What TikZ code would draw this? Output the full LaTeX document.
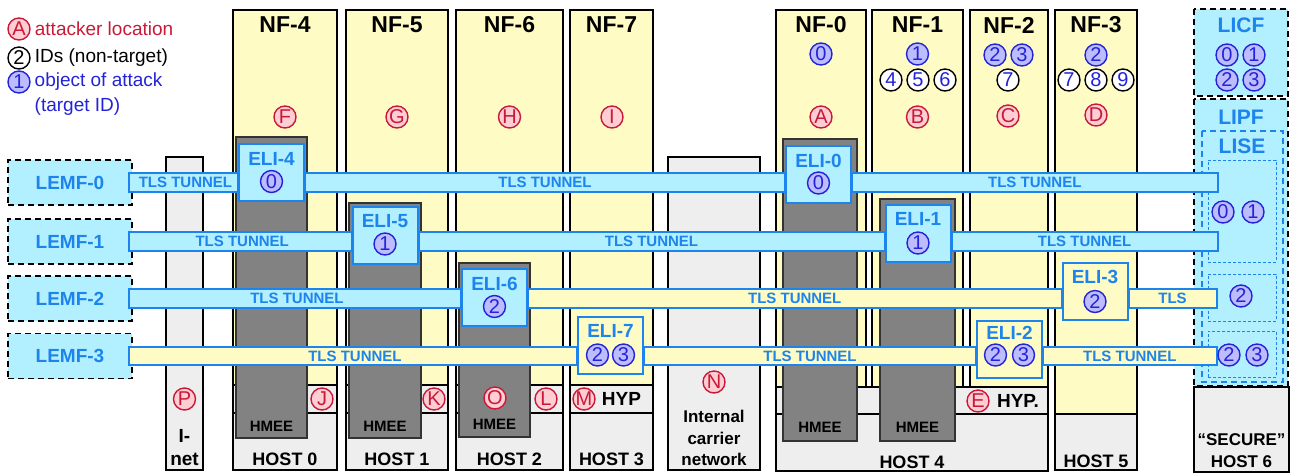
\documentclass[tikz,border=0pt]{standalone}
\usepackage{fontspec}
\setmainfont{Liberation Sans}
\usetikzlibrary{calc,positioning}
\definecolor{nfyellow}{RGB}{255,251,196}
\definecolor{licyan}{RGB}{178,239,255}
\definecolor{liblue}{RGB}{28,132,236}
\definecolor{tgtblue}{RGB}{35,35,215}
\definecolor{tgtfill}{RGB}{188,188,255}
\definecolor{atkred}{RGB}{200,25,55}
\definecolor{atkfill}{RGB}{255,205,212}
\definecolor{hmeegray}{RGB}{130,130,130}
\definecolor{hostgray}{RGB}{238,238,238}

\begin{document}
\begin{tikzpicture}[
    x=1pt, y=-1pt,
    every node/.style={inner sep=0pt},
    nfbox/.style={draw, line width=1.6pt, fill=nfyellow},
    hostbox/.style={draw, line width=1.6pt, fill=hostgray},
    hmee/.style={draw=black!80, line width=1.6pt, fill=hmeegray},
    lidash/.style={draw, dash pattern=on 6pt off 4pt, line width=1.8pt, fill=licyan},
    lisebox/.style={draw=liblue, dash pattern=on 6pt off 4pt, line width=1.8pt, fill=licyan},
    subbox/.style={draw=liblue, dash pattern=on 3pt off 2pt, line width=0.8pt, fill=licyan},
    lemf/.style={lidash, minimum width=124pt, minimum height=45pt, text=liblue, font=\fontsize{19}{19}\selectfont\bfseries},
    eli/.style={draw=liblue, line width=2pt, fill=licyan, minimum width=65pt, minimum height=57pt},
    eliyel/.style={eli, fill=nfyellow},
    elitext/.style={text=liblue, font=\fontsize{19}{19}\selectfont\bfseries},
    tunnelc/.style={draw=liblue, line width=2pt, fill=licyan},
    tunnely/.style={tunnelc, fill=nfyellow},
    tls/.style={text=liblue, font=\fontsize{15}{15}\selectfont\bfseries},
    litext/.style={text=liblue, font=\fontsize{21}{21}\selectfont\bfseries},
    nftext/.style={font=\fontsize{23}{23}\selectfont\bfseries},
    hosttext/.style={font=\fontsize{18}{22}\selectfont\bfseries, align=center},
    hmeetext/.style={font=\fontsize{15}{15}\selectfont\bfseries},
    legtext/.style={font=\fontsize{19}{25}\selectfont, align=left},
    tgt/.style={circle, draw=tgtblue, line width=1.4pt, fill=tgtfill, text=tgtblue, minimum size=22pt, font=\fontsize{20}{20}\selectfont},
    nid/.style={tgt, draw=black, fill=white},
    atk/.style={tgt, draw=atkred, fill=atkfill, text=atkred}
]
\useasboundingbox (0,0) rectangle (1296,475);

\node[atk] (legatk) at (19,29) {A};
\node[legtext, text=atkred, right=4pt of legatk] (legatktext) {attacker location};
\node[nid, text=black] (legnid) at (19,58) {2};
\node[legtext, right=4pt of legnid] (legnidtext) {IDs (non-target)};
\node[tgt] (legtgt) at (19,82) {1};
\node[legtext, text=tgtblue, anchor=north west] (legtgttext) at (34.5,73) {object of attack\\(target ID)};

\draw[hostbox] (166,157) rectangle (203,470);
\node[atk] (atkP) at (184.5,399) {P};
\node[hosttext, font=\fontsize{19}{23}\selectfont\bfseries] (inet) at (184.5,448) {I-\\net};
\draw[hostbox] (668,157) rectangle (760,470);
\node[atk] (atkN) at (714,382) {N};
\node[hosttext, font=\fontsize{17}{21.5}\selectfont\bfseries] (icn) at (714,438) {Internal\\carrier\\network};

\draw[nfbox] (233,10) rectangle (337,385);
\draw[hostbox] (233,385) rectangle (337,470);
\draw[line width=1.6pt] (233,413) -- (337,413);
\draw[hmee] (236,137) rectangle (307,438);
\node[nftext] (nf4) at (285,25) {NF-4};
\node[atk] (atkF) at (285,117) {F};
\node[atk] (atkJ) at (322,399) {J};
\node[hmeetext] (hmee0) at (271.5,426) {HMEE};
\node[hosttext] (host0) at (285,459) {HOST 0};

\draw[nfbox] (346,10) rectangle (448,385);
\draw[hostbox] (346,385) rectangle (448,470);
\draw[line width=1.6pt] (346,413) -- (448,413);
\draw[hmee] (349,203) rectangle (421,438);
\node[nftext] (nf5) at (397,25) {NF-5};
\node[atk] (atkG) at (397,117) {G};
\node[atk] (atkK) at (434,399) {K};
\node[hmeetext] (hmee1) at (385,426) {HMEE};
\node[hosttext] (host1) at (397,459) {HOST 1};

\draw[nfbox] (456,10) rectangle (563,385);
\draw[hostbox] (456,385) rectangle (563,470);
\draw[line width=1.6pt] (456,413) -- (563,413);
\draw[hmee] (459,263) rectangle (530,437);
\node[nftext] (nf6) at (509.5,25) {NF-6};
\node[atk] (atkH) at (509.5,117) {H};
\node[atk] (atkO) at (495,398) {O};
\node[atk] (atkL) at (546,399) {L};
\node[hmeetext] (hmee2) at (494.5,424) {HMEE};
\node[hosttext] (host2) at (509.5,459) {HOST 2};

\draw[nfbox] (570,10) rectangle (653,385);
\draw[hostbox] (570,385) rectangle (653,470);
\draw[line width=1.6pt] (570,413) -- (653,413);
\node[nftext] (nf7) at (611.5,25) {NF-7};
\node[atk] (atkI) at (612,117) {I};
\node[atk] (atkM) at (584,399) {M};
\node[hosttext, font=\fontsize{19}{19}\selectfont\bfseries] (hyp3) at (621.5,399) {HYP};
\node[hosttext] (host3) at (611.5,459) {HOST 3};

\draw[nfbox] (776,10) rectangle (866,387);
\draw[nfbox] (872,10) rectangle (963,387);
\draw[nfbox] (970,10) rectangle (1048,387);
\draw[hostbox] (776,387) rectangle (1048,471);
\draw[line width=1.6pt] (776,414) -- (1048,414);
\draw[hmee] (783,139) rectangle (857,441);
\draw[hmee] (880,199) rectangle (955,441);
\node[nftext] (nf0) at (821,25) {NF-0};
\node[tgt] (nf0id0) at (821,54) {0};
\node[atk] (atkA) at (821,117) {A};
\node[nftext] (nf1) at (917.5,25) {NF-1};
\node[tgt] (nf1id1) at (917.5,54) {1};
\node[nid] (nf1id4) at (891,80) {4};
\node[nid] (nf1id5) at (918,80) {5};
\node[nid] (nf1id6) at (945,80) {6};
\node[atk] (atkB) at (917.5,117) {B};
\node[nftext] (nf2) at (1009,25) {NF-2};
\node[tgt] (nf2id2) at (995,55) {2};
\node[tgt] (nf2id3) at (1022,55) {3};
\node[nid] (nf2id7) at (1008,80) {7};
\node[atk] (atkC) at (1008,116) {C};
\node[atk] (atkE) at (978,401) {E};
\node[hosttext, font=\fontsize{19}{19}\selectfont\bfseries] (hyp4) at (1018,401) {HYP.};
\node[hmeetext] (hmee4a) at (820,427) {HMEE};
\node[hmeetext] (hmee4b) at (917.5,427) {HMEE};
\node[hosttext] (host4) at (912,462) {HOST 4};

\draw[nfbox] (1055,10) rectangle (1137,414);
\draw[hostbox] (1055,414) rectangle (1137,470);
\node[nftext] (nf3) at (1096,25) {NF-3};
\node[tgt] (nf3id2) at (1096,55) {2};
\node[nid] (nf3id7) at (1069,80) {7};
\node[nid] (nf3id8) at (1096,80) {8};
\node[nid] (nf3id9) at (1123,80) {9};
\node[atk] (atkD) at (1096,115) {D};
\node[hosttext] (host5) at (1096,461) {HOST 5};

\draw[hostbox] (1194,387) rectangle (1289,472);
\node[hosttext, font=\fontsize{17}{22}\selectfont\bfseries] (host6) at (1241.5,451) {``SECURE''\\HOST 6};
\draw[lidash] (1194,9) rectangle (1288,96);
\node[litext] (licf) at (1241,25) {LICF};
\node[tgt] (licf0) at (1227,55) {0};
\node[tgt] (licf1) at (1254,55) {1};
\node[tgt] (licf2) at (1227,80) {2};
\node[tgt] (licf3) at (1254,80) {3};
\draw[lidash] (1194,99) rectangle (1288,386);
\node[litext] (lipf) at (1241,117) {LIPF};
\draw[lisebox] (1202,131) rectangle (1283,382);
\node[litext] (lise) at (1242,146) {LISE};
\node[subbox, minimum width=68pt, minimum height=102pt] (sub0) at (1242,211) {};
\node[subbox, minimum width=68pt, minimum height=47pt] (sub1) at (1242,297.5) {};
\node[subbox, minimum width=68pt, minimum height=46pt] (sub2) at (1242,354) {};

\node[lemf] (lemf0) at (70,182.5) {LEMF-0};
\node[lemf] (lemf1) at (70,241.5) {LEMF-1};
\node[lemf] (lemf2) at (70,298.5) {LEMF-2};
\node[lemf] (lemf3) at (70,356) {LEMF-3};

\node[eli] (eli4) at (271.5,172.5) {};
\node[eli] (eli5) at (385,235) {};
\node[eli] (eli6) at (494.5,297) {};
\node[eliyel] (eli7) at (610.5,345.5) {};
\node[eli] (eli0) at (818.5,174.5) {};
\node[eli] (eli1) at (918,233.5) {};
\node[eliyel] (eli3) at (1095,291) {};
\node[eliyel] (eli2) at (1009.5,349.5) {};

\coordinate (end0) at ($(sub0.west |- lemf0)+(10,0)$);
\coordinate (end1) at ($(sub0.west |- lemf1)+(10,0)$);
\coordinate (end2) at ($(sub1.west |- lemf2)+(9,0)$);
\coordinate (end3) at ($(sub2.west |- lemf3)+(9,0)$);

\draw[tunnelc] ($(lemf0.east)+(-4,-9.5)$) rectangle ($(eli4.west |- lemf0)+(0,9.5)$);
\node[tls] (tls00) at ($(lemf0.east)!0.5!(eli4.west |- lemf0)$) {TLS TUNNEL};
\draw[tunnelc] ($(eli4.east |- lemf0)+(0,-9.5)$) rectangle ($(eli0.west |- lemf0)+(0,9.5)$);
\node[tls] (tls01) at ($(eli4.east |- lemf0)!0.5!(eli0.west |- lemf0)$) {TLS TUNNEL};
\draw[tunnelc] ($(eli0.east |- lemf0)+(0,-9.5)$) rectangle ($(end0)+(0,9.5)$);
\node[tls] (tls02) at ($(eli0.east |- lemf0)!0.5!(end0)$) {TLS TUNNEL};

\draw[tunnelc] ($(lemf1.east)+(-4,-9.5)$) rectangle ($(eli5.west |- lemf1)+(0,9.5)$);
\node[tls] (tls10) at ($(lemf1.east)!0.5!(eli5.west |- lemf1)$) {TLS TUNNEL};
\draw[tunnelc] ($(eli5.east |- lemf1)+(0,-9.5)$) rectangle ($(eli1.west |- lemf1)+(0,9.5)$);
\node[tls] (tls11) at ($(eli5.east |- lemf1)!0.5!(eli1.west |- lemf1)$) {TLS TUNNEL};
\draw[tunnelc] ($(eli1.east |- lemf1)+(0,-9.5)$) rectangle ($(end1)+(0,9.5)$);
\node[tls] (tls12) at ($(eli1.east |- lemf1)!0.5!(end1)$) {TLS TUNNEL};

\draw[tunnelc] ($(lemf2.east)+(-4,-9.5)$) rectangle ($(eli6.west |- lemf2)+(0,9.5)$);
\node[tls] (tls20) at ($(lemf2.east)!0.5!(eli6.west |- lemf2)$) {TLS TUNNEL};
\draw[tunnely] ($(eli6.east |- lemf2)+(0,-9.5)$) rectangle ($(eli3.west |- lemf2)+(0,9.5)$);
\node[tls] (tls21) at ($(eli6.east |- lemf2)!0.5!(eli3.west |- lemf2)$) {TLS TUNNEL};
\draw[tunnely] ($(eli3.east |- lemf2)+(0,-9.5)$) rectangle ($(end2)+(0,9.5)$);
\node[tls] (tls22) at ($(eli3.east |- lemf2)!0.5!(end2)$) {TLS};

\draw[tunnely] ($(lemf3.east)+(-4,-9)$) rectangle ($(eli7.west |- lemf3)+(0,9)$);
\node[tls] (tls30) at ($(lemf3.east)!0.5!(eli7.west |- lemf3)$) {TLS TUNNEL};
\draw[tunnely] ($(eli7.east |- lemf3)+(0,-9)$) rectangle ($(eli2.west |- lemf3)+(0,9)$);
\node[tls] (tls31) at ($(eli7.east |- lemf3)!0.5!(eli2.west |- lemf3)$) {TLS TUNNEL};
\draw[tunnely] ($(eli2.east |- lemf3)+(0,-9)$) rectangle ($(end3)+(0,9)$);
\node[tls] (tls32) at ($(eli2.east |- lemf3)!0.5!(end3)$) {TLS TUNNEL};

\node[elitext] (eli4t) at ($(eli4.north)+(0,16)$) {ELI-4};
\node[tgt] (eli4id0) at ($(eli4.north)+(0,38.5)$) {0};
\node[elitext] (eli5t) at ($(eli5.north)+(0,16)$) {ELI-5};
\node[tgt] (eli5id1) at ($(eli5.north)+(0,38.5)$) {1};
\node[elitext] (eli6t) at ($(eli6.north)+(0,16)$) {ELI-6};
\node[tgt] (eli6id2) at ($(eli6.north)+(0,39)$) {2};
\node[elitext] (eli7t) at ($(eli7.north)+(0,15)$) {ELI-7};
\node[tgt] (eli7id2) at ($(eli7.north)+(-13,39)$) {2};
\node[tgt] (eli7id3) at ($(eli7.north)+(13,39)$) {3};
\node[elitext] (eli0t) at ($(eli0.north)+(0,16)$) {ELI-0};
\node[tgt] (eli0id0) at ($(eli0.north)+(0,38)$) {0};
\node[elitext] (eli1t) at ($(eli1.north)+(0,15)$) {ELI-1};
\node[tgt] (eli1id1) at ($(eli1.north)+(0,39)$) {1};
\node[elitext] (eli3t) at ($(eli3.north)+(0,15)$) {ELI-3};
\node[tgt] (eli3id2) at ($(eli3.north)+(0,40)$) {2};
\node[elitext] (eli2t) at ($(eli2.north)+(0,13)$) {ELI-2};
\node[tgt] (eli2id2) at ($(eli2.north)+(-14,35)$) {2};
\node[tgt] (eli2id3) at ($(eli2.north)+(14,35)$) {3};

\node[tgt] (lise0) at (1223,212) {0};
\node[tgt] (lise1) at (1253,212) {1};
\node[tgt] (lise2) at (1241,296) {2};
\node[tgt] (lise2b) at (1229,355) {2};
\node[tgt] (lise3) at (1257,355) {3};
\end{tikzpicture}
\end{document}
